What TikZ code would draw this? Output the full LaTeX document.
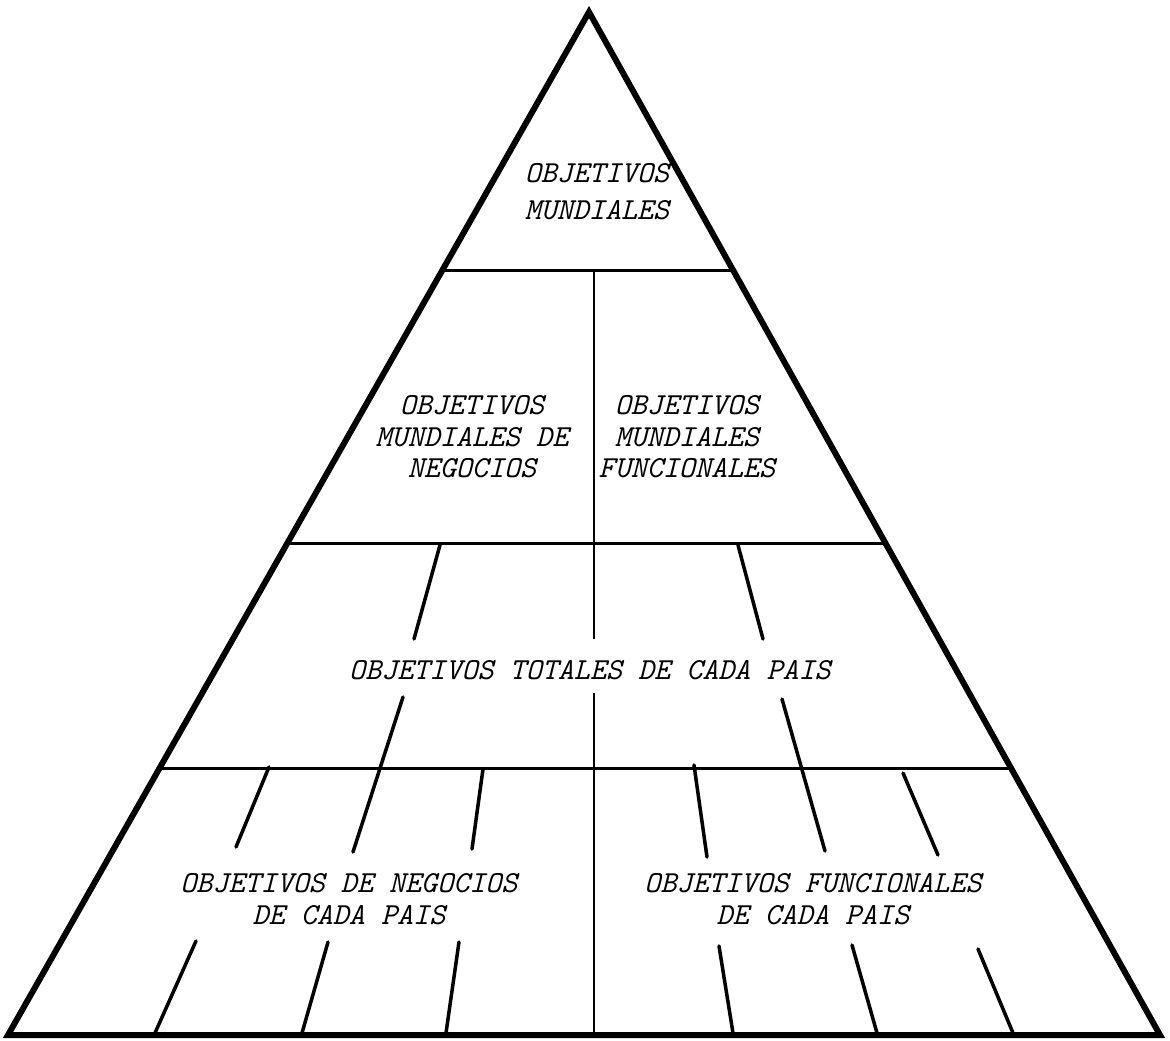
\documentclass[tikz,border=0pt]{standalone}
\usepackage{fontspec}
\usetikzlibrary{calc}
\tikzset{
  lvltext/.style={font=\fontsize{8.7}{9}\selectfont\ttfamily\itshape, align=center, inner sep=0pt},
  hatchline/.style={line width=1pt, line cap=round},
  levelline/.style={line width=0.85pt}
}
\begin{document}
\begin{tikzpicture}[x=0.1mm,y=-0.1mm]
    \useasboundingbox (0,0) rectangle (1170,1040);
	\coordinate (A) at (589,12);
	\coordinate (B) at (8,1035);
	\coordinate (C) at (1160,1035);
    \draw[line width=1.7pt] (A)--(B)--(C)--cycle;

    % the three level lines, cut off at the sides
    \foreach \y/\n [evaluate=\y as \t using (\y-12)/1023] in {270/1,543/2,768/3}{
        \coordinate (L\n) at ($(A)!\t!(B)$);
        \coordinate (R\n) at ($(A)!\t!(C)$);
        \draw[levelline] (L\n)--(R\n);
    }

    % centre line, broken for the country text
    \coordinate (M1) at (594,270);
    \coordinate (M2) at (594,639);
    \coordinate (M3) at (594,693);
    \coordinate (M4) at (594,1035);
    \draw[levelline] (M1)--(M2) (M3)--(M4);

    % slanted strokes
    \foreach \a/\b/\c/\d in {440/545/414/639, 738/545/763/639, 403/697/353/852, 782/699/825/851,
        269/767/236/847, 483/769/472/849, 694/765/707/857, 903/773/938/855,
        196/941/155/1033, 328/942/302/1033, 459/942/446/1033,
        719/946/733/1033, 852/945/877/1033, 978/949/1013/1033}
        \draw[hatchline] (\a,\b)--(\c,\d);

    \node[lvltext] (mundial) at (597,192) {OBJETIVOS\\[1.5pt]MUNDIALES};
    \node[lvltext] (negmund) at (472,437) {OBJETIVOS\\MUNDIALES DE\\NEGOCIOS};
    \node[lvltext] (funmund) at (687,437) {OBJETIVOS\\MUNDIALES\\FUNCIONALES};
    \node[lvltext] (total) at (590,670) {OBJETIVOS TOTALES DE CADA PAIS};
    \node[lvltext] (negpais) at (349,899) {OBJETIVOS DE NEGOCIOS\\DE CADA PAIS};
    \node[lvltext] (funpais) at (813,899) {OBJETIVOS FUNCIONALES\\DE CADA PAIS};
\end{tikzpicture}
\end{document}
